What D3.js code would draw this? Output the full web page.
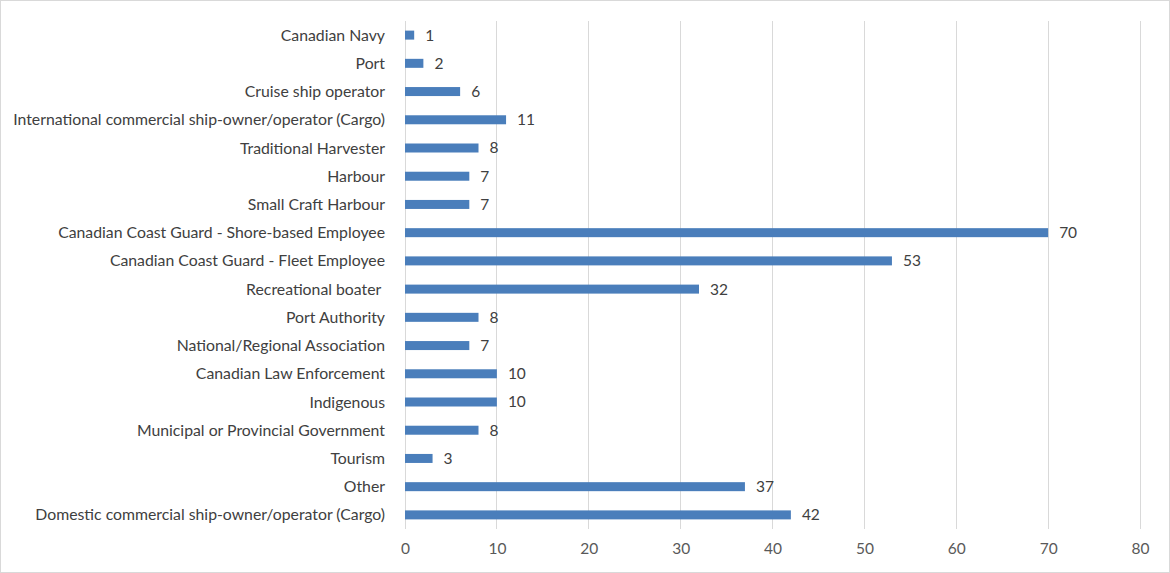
<!DOCTYPE html>
<html><head><meta charset="utf-8">
<script src="https://cdn.jsdelivr.net/npm/d3@7"></script>
<style>body{margin:0;background:#fff}svg{display:block}text{font-family:Lato,"Open Sans",sans-serif;fill:#404040}</style>
</head><body><svg id="c" width="1170" height="573"></svg>
<script>
const categories = ["Canadian Navy","Port","Cruise ship operator","International commercial ship-owner/operator (Cargo)","Traditional Harvester","Harbour","Small Craft Harbour","Canadian Coast Guard - Shore-based Employee","Canadian Coast Guard - Fleet Employee","Recreational boater ","Port Authority","National/Regional Association","Canadian Law Enforcement","Indigenous","Municipal or Provincial Government","Tourism","Other","Domestic commercial ship-owner/operator (Cargo)"];
const values = [1,2,6,11,8,7,7,70,53,32,8,7,10,10,8,3,37,42];
const xTicks = [0,10,20,30,40,50,60,70,80];

const svg = d3.select("#c");
svg.append("rect").attr("x",0.5).attr("y",0.5).attr("width",1169).attr("height",572).attr("fill","#fff").attr("stroke","#d9d9d9");
const x = d3.scaleLinear().domain([0,80]).range([405,1140]);
const y = d3.scaleBand().domain(categories).range([21,529]);
const bh = 9;

svg.append("g").selectAll("line").data(xTicks).join("line")
  .attr("x1",d=>x(d)).attr("x2",d=>x(d)).attr("y1",21).attr("y2",529)
  .attr("stroke","#d9d9d9").attr("stroke-width",1).attr("shape-rendering","crispEdges");

const xa = svg.append("g").attr("transform","translate(0,529)").call(d3.axisBottom(x).tickValues(xTicks).tickSize(0).tickPadding(14));
xa.select(".domain").remove();
xa.selectAll("text").style("font-size","15.5px").style("fill","#595959").style("font-family","Lato,sans-serif");

svg.append("g").selectAll("rect").data(categories).join("rect")
  .attr("x",x(0)).attr("y",(d)=>y(d)+y.bandwidth()/2-bh/2)
  .attr("width",(d,i)=>x(values[i])-x(0)).attr("height",bh).attr("fill","#4a7ebb");

svg.append("g").selectAll("text").data(categories).join("text")
  .attr("x",(d,i)=>x(values[i])+11).attr("y",d=>y(d)+y.bandwidth()/2).attr("dy","0.35em")
  .style("font-size","15.5px").text((d,i)=>values[i]);

svg.append("g").selectAll("text").data(categories).join("text")
  .attr("x",385).attr("y",d=>y(d)+y.bandwidth()/2).attr("dy","0.35em").attr("text-anchor","end")
  .style("font-size","15.8px").style("white-space","pre").text(d=>d);
</script></body></html>
